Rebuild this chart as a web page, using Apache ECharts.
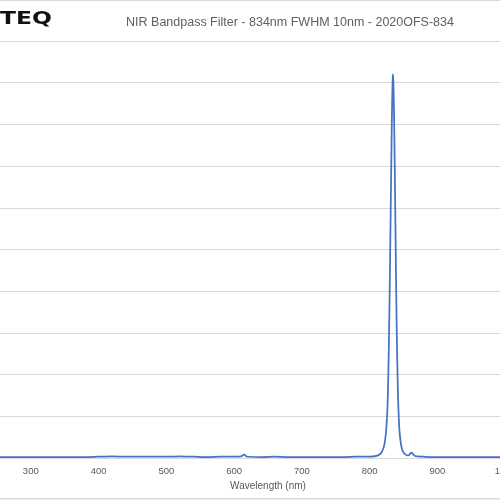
<!DOCTYPE html>
<html>
<head>
<meta charset="utf-8">
<script src="https://cdn.jsdelivr.net/npm/echarts@6/dist/echarts.min.js"></script>
<style>html,body{margin:0;padding:0;background:#fff}#c{width:500px;height:500px}</style>
</head>
<body>
<div id="c"></div>
<script>
const chartTitle = "NIR Bandpass Filter - 834nm FWHM 10nm - 2020OFS-834";
const xAxisName = "Wavelength (nm)";
const wavelengths = [200,220,240,260,280,300,320,340,360,380,400,420,440,460,480,500,520,540,560,580,600,610,615,618,620,640,660,680,700,720,740,760,780,800,810,815,818,820,822,824,826,827,828,829,830,831,832,833,834,834.5,835,836,837,838,839,840,841,842,843,844,846,848,850,853,856,858,860,862,864,867,870,880,900,920,940,960,980,1000,1020,1040,1060,1080,1100];
const transmission = [0.2,0.2,0.2,0.2,0.2,0.2,0.2,0.2,0.2,0.2,0.3,0.4,0.3,0.3,0.3,0.3,0.4,0.3,0.2,0.3,0.3,0.4,0.8,0.4,0.3,0.2,0.3,0.2,0.2,0.2,0.2,0.2,0.3,0.3,0.5,0.9,1.5,2.2,3.5,6,11,16,24,34,46,59,72,84,91,92,90,82,70,56,42,30,21,14,9.5,6.5,3.5,2.0,1.3,0.8,0.6,0.7,1.1,1.3,0.9,0.5,0.4,0.3,0.2,0.2,0.2,0.2,0.2,0.2,0.2,0.2,0.2,0.2,0.2];
const xMin = 200, xMax = 1100, xStep = 100;
const yMin = 0, yMax = 100, yStep = 10;

const data = wavelengths.map((w, i) => [w, transmission[i]]);
const chart = echarts.init(document.getElementById('c'), null, {renderer: 'canvas'});
chart.setOption({
  animation: false,
  backgroundColor: '#fff',
  title: {
    text: chartTitle, left: 285, top: 11, textAlign: 'center',
    textStyle: {fontFamily: 'Liberation Sans', fontSize: 12.5, fontWeight: 'normal', color: '#606060'}
  },
  graphic: [
    {type: 'text', x: 0, y: 10, scaleX: 1.3, style: {text: 'TEQ', fontFamily: 'DejaVu Sans', fontWeight: 'bold', fontSize: 18, fill: '#111'}},
    {type: 'rect', shape: {x: 0, y: 0, width: 500, height: 1}, style: {fill: '#d9d9d9'}},
    {type: 'rect', shape: {x: 0, y: 498, width: 500, height: 1.5}, style: {fill: '#d9d9d9'}}
  ],
  grid: {left: -37, right: -73, top: 41, bottom: 42, outerBoundsMode: 'none', containLabel: false},
  xAxis: {
    type: 'value', min: xMin, max: xMax, interval: xStep,
    name: xAxisName, nameLocation: 'middle', nameGap: 21,
    nameTextStyle: {fontFamily: 'Liberation Sans', fontSize: 10, color: '#595959'},
    axisLine: {show: true, lineStyle: {color: '#d9d9d9', width: 1}},
    axisTick: {show: false},
    axisLabel: {fontFamily: 'Liberation Sans', fontSize: 9.5, color: '#595959', margin: 8, formatter: v => String(v)},
    splitLine: {show: false}
  },
  yAxis: {
    type: 'value', min: yMin, max: yMax, interval: yStep,
    axisLine: {show: false}, axisTick: {show: false},
    axisLabel: {show: false},
    splitLine: {show: true, lineStyle: {color: '#d9d9d9', width: 1}}
  },
  series: [{
    type: 'line', data: data, showSymbol: false, smooth: 0.3,
    lineStyle: {color: '#4472C4', width: 1.75}
  }]
});
</script>
</body>
</html>
